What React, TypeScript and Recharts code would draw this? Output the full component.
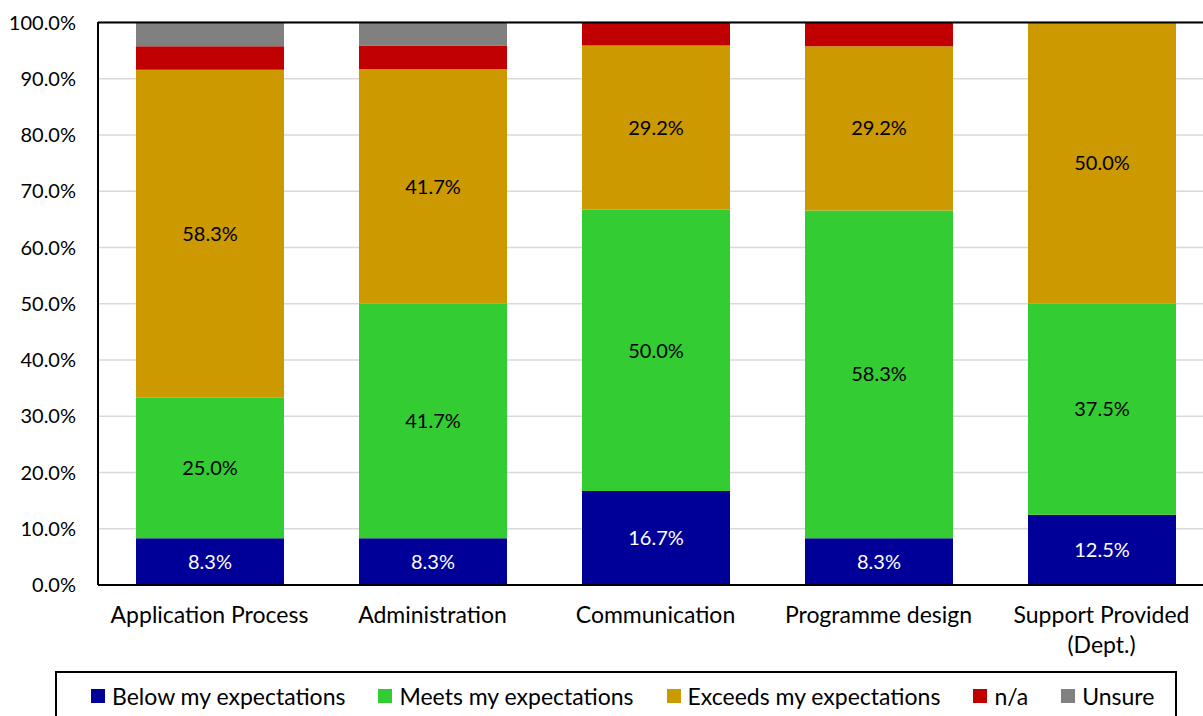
import { BarChart, Bar, XAxis, YAxis, CartesianGrid, ReferenceLine, LabelList } from "recharts";

const categories = ["Application Process", "Administration", "Communication", "Programme design", "Support Provided (Dept.)"];
const below = [8.3, 8.3, 16.7, 8.3, 12.5];
const meets = [25.0, 41.7, 50.0, 58.3, 37.5];
const exceeds = [58.3, 41.7, 29.2, 29.2, 50.0];
const notApplicable = [4.2, 4.2, 4.2, 4.2, 0];
const unsure = [4.2, 4.2, 0, 0, 0];
const yTicks = [0, 10, 20, 30, 40, 50, 60, 70, 80, 90, 100];

const series = [
  { key: "below", name: "Below my expectations", color: "#000099", label: "#ffffff" },
  { key: "meets", name: "Meets my expectations", color: "#33cc33", label: "#000000" },
  { key: "exceeds", name: "Exceeds my expectations", color: "#cc9900", label: "#000000" },
  { key: "na", name: "n/a", color: "#c00000", label: null },
  { key: "unsure", name: "Unsure", color: "#808080", label: null },
];

const data = categories.map((name, i) => ({
  name,
  below: below[i],
  meets: meets[i],
  exceeds: exceeds[i],
  na: notApplicable[i],
  unsure: unsure[i],
}));

const FONT = "Lato, 'Open Sans', sans-serif";

// greedy word wrap, labels longer than ~20 chars go on two lines
const wrap = (s: string, max = 20) => {
  const lines: string[] = [];
  let cur = "";
  s.split(" ").forEach((w) => {
    const next = cur ? `${cur} ${w}` : w;
    if (next.length > max && cur) {
      lines.push(cur);
      cur = w;
    } else cur = next;
  });
  if (cur) lines.push(cur);
  return lines;
};

const CategoryTick = (props: any) => {
  const { x, y, payload } = props;
  const lines = wrap(String(payload.value));
  return (
    <text x={x} y={y + 30} textAnchor="middle" fontSize={23} fontFamily={FONT} fill="#000">
      {lines.map((l, i) => (
        <tspan key={i} x={x} dy={i === 0 ? 0 : 30}>
          {l}
        </tspan>
      ))}
    </text>
  );
};

const pct = (v: any) => (v ? `${Number(v).toFixed(1)}%` : "");

export default function App() {
  return (
    <div style={{ position: "absolute", left: 0, top: 0, width: 1203, height: 716, overflow: "hidden", background: "#fff" }}>
      <BarChart
        width={1220}
        height={716}
        data={data}
        margin={{ top: 22, right: 7, left: 0, bottom: 0 }}
      >
        <CartesianGrid vertical={false} stroke="#d9d9d9" strokeWidth={1.5} />
        <XAxis
          dataKey="name"
          height={131}
          tickLine={false}
          axisLine={{ stroke: "#000", strokeWidth: 2 }}
          tick={<CategoryTick />}
          interval={0}
        />
        <YAxis
          width={98}
          domain={[0, 100]}
          ticks={yTicks}
          tickFormatter={(v) => `${v.toFixed(1)}%`}
          tickLine={false}
          tickSize={0}
          tickMargin={22}
          axisLine={{ stroke: "#000", strokeWidth: 2 }}
          tick={{ fontSize: 20, fontFamily: FONT, fill: "#000" }}
        />
        <ReferenceLine y={100} stroke="#000" strokeWidth={2} />
        {series.map((s) => (
          <Bar key={s.key} dataKey={s.key} name={s.name} stackId="a" fill={s.color} barSize={148} isAnimationActive={false}>
            {s.label && (
              <LabelList
                dataKey={s.key}
                position="center"
                formatter={pct}
                fill={s.label}
                fontSize={20}
                fontFamily={FONT}
              />
            )}
          </Bar>
        ))}
      </BarChart>
      <div
        style={{
          position: "absolute",
          left: 55,
          top: 671,
          width: 1122,
          height: 60,
          border: "2px solid #000",
          display: "flex",
          alignItems: "flex-start",
          paddingLeft: 34,
          paddingTop: 9,
          boxSizing: "border-box",
          gap: 33,
          fontFamily: FONT,
          fontSize: 23,
          color: "#000",
        }}
      >
        {series.map((s) => (
          <div key={s.key} style={{ display: "flex", alignItems: "center", gap: 7, whiteSpace: "nowrap" }}>
            <span style={{ width: 14, height: 14, background: s.color, display: "inline-block" }} />
            <span>{s.name}</span>
          </div>
        ))}
      </div>
    </div>
  );
}
